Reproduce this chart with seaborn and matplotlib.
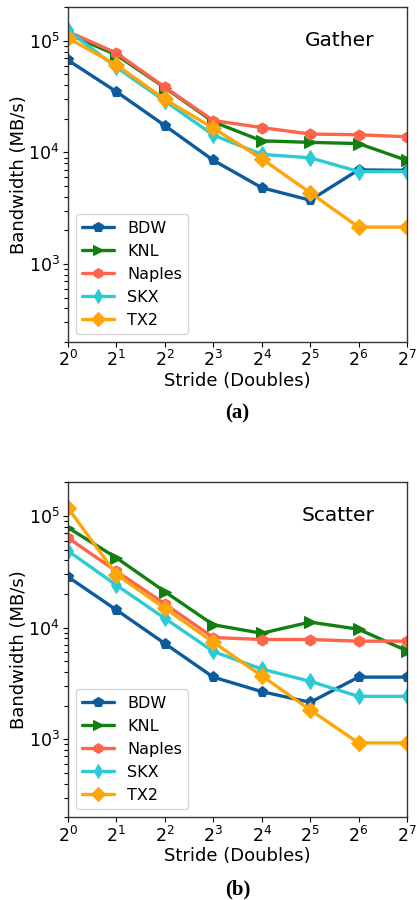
import matplotlib
matplotlib.use('Agg')
import matplotlib.pyplot as plt
from matplotlib.ticker import LogLocator, NullFormatter
import numpy as np
import pandas as pd
import seaborn as sns

strides = [0, 1, 2, 3, 4, 5, 6, 7]  # log2 of stride
archs = ['BDW', 'KNL', 'Naples', 'SKX', 'TX2']

gather_bdw = [67000, 35000, 17400, 8500, 4830, 3730, 6970, 6900]
gather_knl = [115000, 74700, 38000, 18800, 12700, 12300, 12000, 8470]
gather_naples = [121000, 77700, 38400, 19300, 16700, 14600, 14400, 13800]
gather_skx = [124000, 57800, 28900, 14300, 9600, 8950, 6730, 6730]
gather_tx2 = [106000, 60700, 29900, 16500, 8770, 4360, 2140, 2140]

scatter_bdw = [28500, 14400, 7200, 3600, 2670, 2140, 3600, 3600]
scatter_knl = [78700, 42200, 21000, 10600, 8900, 11200, 9670, 6190]
scatter_naples = [63700, 32000, 16300, 8150, 7820, 7820, 7560, 7560]
scatter_skx = [48700, 24000, 12100, 6110, 4250, 3300, 2420, 2420]
scatter_tx2 = [118000, 29900, 14900, 7400, 3700, 1830, 927, 927]

colors = {'BDW': '#0c5b9c', 'KNL': '#118011', 'Naples': '#fd6449',
          'SKX': '#2ccbd3', 'TX2': '#fea50a'}
markers = {'BDW': 'p', 'KNL': '>', 'Naples': 'h', 'SKX': 'd', 'TX2': 'D'}


def to_frame(series):
    rows = []
    for name, vals in zip(archs, series):
        for s, v in zip(strides, vals):
            rows.append({'stride': s, 'bw': v, 'arch': name})
    return pd.DataFrame(rows)


gather = to_frame([gather_bdw, gather_knl, gather_naples, gather_skx, gather_tx2])
scatter = to_frame([scatter_bdw, scatter_knl, scatter_naples, scatter_skx, scatter_tx2])

sns.set_theme(style='ticks', rc={'text.color': 'black', 'axes.labelcolor': 'black',
                                 'xtick.color': 'black', 'ytick.color': 'black',
                                 'axes.edgecolor': '#333333',
                                 'ytick.minor.size': 3, 'ytick.minor.width': 0.8,
                                 'ytick.minor.left': True})
plt.rcParams['font.family'] = ['DejaVu Sans']

fig = plt.figure(figsize=(4.17, 9.0), dpi=100)
ax1 = fig.add_axes([0.163, 0.620, 0.813, 0.372])
ax2 = fig.add_axes([0.163, 0.092, 0.813, 0.372])

for ax, df, title, lbl in [(ax1, gather, 'Gather', '(a)'), (ax2, scatter, 'Scatter', '(b)')]:
    sns.lineplot(data=df, x='stride', y='bw', hue='arch', style='arch',
                 markers=markers, dashes=False, palette=colors,
                 linewidth=2.4, markersize=8, ax=ax)
    for ln in ax.get_lines():
        ln.set_markeredgecolor(ln.get_color())
    ax.set_yscale('log')
    ax.set_ylim(200, 2e5)
    ax.set_xlim(0, 7)
    ax.yaxis.set_minor_locator(LogLocator(base=10, subs=np.arange(2, 10)))
    ax.yaxis.set_minor_formatter(NullFormatter())
    ax.set_xticks(strides)
    ax.set_xticklabels(['$2^{%d}$' % s for s in strides])
    ax.tick_params(axis='both', which='major', labelsize=12.5, direction='out',
                   length=3.5, width=0.8, pad=2.5)
    ax.tick_params(axis='y', which='minor', direction='out', length=3, width=0.8,
                   left=True, color='black')
    ax.set_xlabel('Stride (Doubles)', fontsize=13, labelpad=1)
    ax.set_ylabel('Bandwidth (MB/s)', fontsize=13, labelpad=0)
    for sp in ax.spines.values():
        sp.set_visible(True)
        sp.set_linewidth(1.0)
    ax.text(0.905, 0.90, title, transform=ax.transAxes, ha='right', va='center',
            fontsize=14.5)
    leg = ax.legend(loc='lower left', fontsize=11.5, frameon=True, handlelength=2,
                    borderaxespad=0.5)
    leg.set_title(None)
    for h in leg.get_lines():
        h.set_markeredgecolor(h.get_color())
        h.set_markersize(7)
    ax.text(0.5, -0.215, lbl, transform=ax.transAxes, ha='center', va='center',
            fontsize=15, fontweight='bold', family='Liberation Serif')

fig.savefig('out.png', dpi=100)
